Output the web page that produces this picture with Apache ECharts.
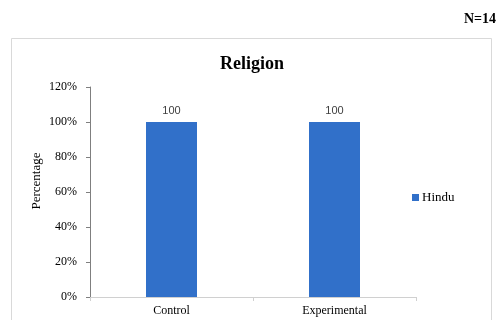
<!DOCTYPE html>
<html>
<head>
<meta charset="utf-8">
<script src="https://cdn.jsdelivr.net/npm/echarts@6/dist/echarts.min.js"></script>
<style>
  html, body { margin: 0; padding: 0; background: #fff; }
  #chart { width: 499px; height: 320px; }
</style>
</head>
<body>
<div id="chart"></div>
<script>
// Religion by study group
const categories = ['Control', 'Experimental'];
const hinduValues = [100, 100];
const yTicks = [0, 20, 40, 60, 80, 100, 120];

const serif = '"Liberation Serif", "Times New Roman", serif';

const chart = echarts.init(document.getElementById('chart'), null, { renderer: 'canvas' });

chart.setOption({
  animation: false,
  backgroundColor: '#ffffff',
  graphic: [
    {
      type: 'rect',
      shape: { x: 11.5, y: 38.5, width: 480, height: 300 },
      style: { fill: 'none', stroke: '#d9d9d9', lineWidth: 1 },
      z: 0
    },
    {
      type: 'text',
      right: 3,
      top: 12,
      style: { text: 'N=14', font: 'bold 14px ' + serif, fill: '#000' }
    }
  ],
  title: {
    text: 'Religion',
    left: 215,
    top: 50,
    textStyle: { fontFamily: serif, fontWeight: 'bold', fontSize: 18, color: '#000' }
  },
  legend: {
    data: ['Hindu'],
    orient: 'vertical',
    left: 407,
    top: 186,
    itemWidth: 7,
    itemHeight: 7,
    itemGap: 4,
    icon: 'rect',
    textStyle: { fontFamily: serif, fontSize: 13, color: '#000', padding: [0, 0, 0, -2] }
  },
  grid: { left: 90, top: 87, right: 83, bottom: 23, containLabel: false },
  xAxis: {
    type: 'category',
    data: categories,
    axisLine: { lineStyle: { color: '#d0d0d0', width: 1 } },
    axisTick: { show: true, alignWithLabel: false, length: 4, lineStyle: { color: '#d0d0d0' } },
    axisLabel: { fontFamily: serif, fontSize: 12, color: '#000', margin: 8 },
    splitLine: { show: false }
  },
  yAxis: {
    type: 'value',
    min: yTicks[0],
    max: yTicks[yTicks.length - 1],
    interval: 20,
    name: 'Percentage',
    nameLocation: 'middle',
    nameGap: 47,
    nameMoveOverlap: false,
    nameRotate: 90,
    nameTextStyle: { fontFamily: serif, fontSize: 13, color: '#000', padding: [0, 0, 0, 22] },
    axisLine: { show: true, lineStyle: { color: '#7f7f7f', width: 1 } },
    axisTick: { show: true, length: 4, lineStyle: { color: '#7f7f7f' } },
    axisLabel: { fontFamily: serif, fontSize: 12, color: '#000', margin: 13, formatter: v => v + '%' },
    splitLine: { show: false }
  },
  series: [
    {
      name: 'Hindu',
      type: 'bar',
      data: hinduValues,
      barWidth: 51,
      itemStyle: { color: '#3170c9' },
      label: {
        show: true,
        position: 'top',
        distance: 6,
        fontFamily: '"Liberation Sans", Arial, sans-serif',
        fontSize: 11,
        color: '#404040'
      }
    }
  ]
});
</script>
</body>
</html>
